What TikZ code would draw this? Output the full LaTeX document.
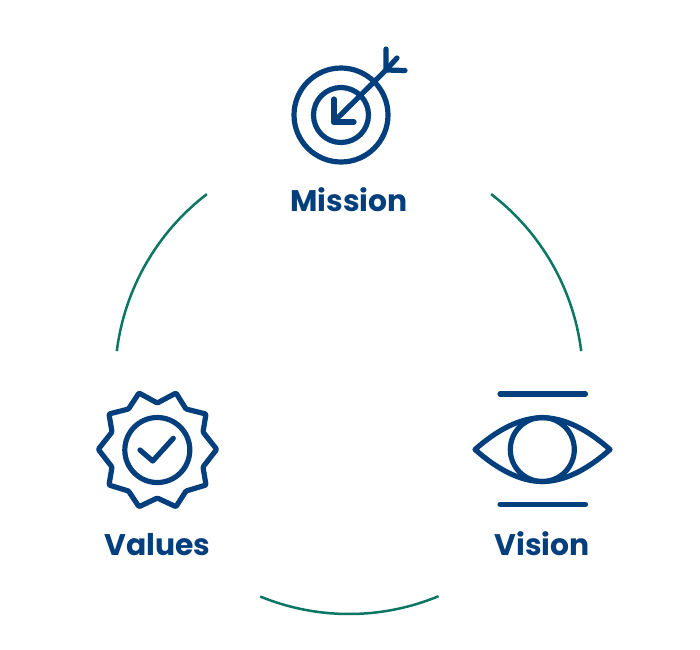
\documentclass[tikz,border=0pt]{standalone}
\usepackage{fontspec}
\usetikzlibrary{calc}
\setmainfont{Poppins}[BoldFont={Poppins Bold}]
\definecolor{navy}{HTML}{033F7C}
\definecolor{teal}{HTML}{0B7661}
\tikzset{
  icon/.style={draw=navy,line width=5.2pt,line cap=round,line join=round},
  ring/.style={draw=teal,line width=2.5pt},
  lbl/.style={text=navy,font=\bfseries\fontsize{29.8}{30}\selectfont,inner sep=0pt,anchor=base}
}
\begin{document}
\begin{tikzpicture}[x=1pt,y=-1pt]
\useasboundingbox (0,0) rectangle (700,649);
\fill[white] (0,0) rectangle (700,649);
\coordinate (c) at (349,380);
% ring
\draw[ring] ($(c)+(-7.1:234)$) arc (-7.1:-52.6:234);
\draw[ring] ($(c)+(-127.4:234)$) arc (-127.4:-172.9:234);
\draw[ring] ($(c)+(67.5:234)$) arc (67.5:112.3:234);
% mission
\draw[icon] (341,115) circle (47);
\draw[icon] (341,115) circle (27.5);
\draw[icon] (333.5,122) -- (386,70);
\draw[icon] (334,99) -- (334,122) -- (354,122);
\draw[icon] (386,49) -- (386,70) -- (405,70.5);
\draw[icon] (397,58) -- (386,70);
\node[lbl] (mission) at (349,211) {Mission};
% values
\draw[icon,rounded corners=1pt] (157.3,403) -- (176,393) -- (186,409) -- (206,414) -- (203,432) -- (216.7,449.3) -- (203,467) -- (206,485) -- (186,491) -- (176,506.7) -- (157.3,498) -- (139,506.7) -- (128.5,491) -- (109,485) -- (112,467) -- (98.3,449.3) -- (112,432) -- (109,414) -- (128.5,409) -- (139,393) -- cycle;
\draw[icon] (157.3,450) circle (32.5);
\draw[icon] (140,450) -- (152.7,461) -- (173.3,438.3);
\node[lbl] (values) at (157.5,555.5) {Values};
% vision
\draw[icon] (500,394) -- (585.5,394);
\draw[icon] (500,504.3) -- (585.5,504.3);
\draw[icon] (475,449.5) .. controls (497,430) and (520,417.7) .. (542.3,417.7) .. controls (565,417.7) and (588,430) .. (610,449.5) .. controls (588,469) and (565,481.5) .. (542.3,481.5) .. controls (520,481.5) and (497,469) .. cycle;
\draw[icon] (542.3,449.5) circle (32);
\node[lbl] (vision) at (542,555.5) {Vision};
\end{tikzpicture}
\end{document}
